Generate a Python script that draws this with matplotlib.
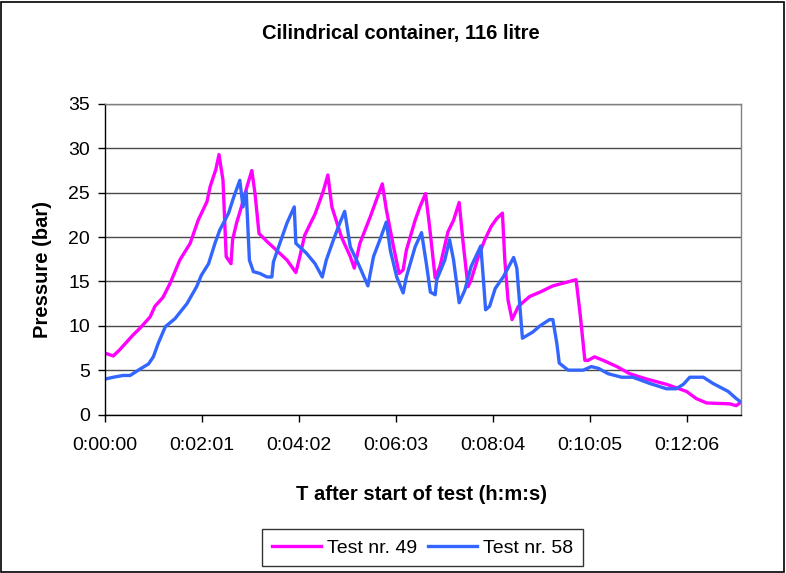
import matplotlib
matplotlib.use('Agg')
import matplotlib.pyplot as plt
from matplotlib.patches import Rectangle

# ---- data (time in seconds after start of test, pressure in bar) ----
t49 = [0, 10, 18, 25, 35, 43, 56, 62, 72, 81,
       93, 106, 116, 127, 131, 138, 142, 147, 151, 157,
       159, 164, 170, 177, 183, 187, 192, 202, 214, 227,
       238, 243, 249, 262, 272, 278, 283, 289, 295, 306,
       311, 318, 331, 337, 346, 351, 360, 367, 372, 376,
       387, 393, 400, 405, 412, 418, 428, 435, 442, 447,
       453, 457, 466, 474, 482, 489, 496, 499, 503, 508,
       516, 530, 543, 559, 576, 588, 593, 599, 603, 611,
       622, 639, 655, 676, 701, 726, 738, 751, 780, 788,
       794]
p49 = [6.9, 6.6, 7.3, 8.0, 9.0, 9.7, 11.0, 12.2, 13.2, 14.8,
       17.4, 19.3, 21.9, 24.0, 25.7, 27.6, 29.3, 26.4, 17.8, 17.0,
       19.7, 21.6, 23.4, 25.7, 27.5, 24.9, 20.4, 19.5, 18.5, 17.4,
       16.0, 17.8, 20.2, 22.6, 25.1, 27.0, 23.4, 21.7, 20.0, 17.8,
       16.5, 19.3, 22.3, 23.8, 26.0, 23.1, 18.9, 15.9, 16.3, 18.5,
       21.9, 23.4, 24.9, 21.2, 15.4, 16.7, 20.6, 21.9, 23.9, 19.3,
       14.4, 15.2, 17.8, 19.7, 21.2, 22.1, 22.7, 17.4, 12.9, 10.7,
       12.2, 13.3, 13.8, 14.5, 14.9, 15.2, 11.4, 6.1, 6.1, 6.5,
       6.1, 5.4, 4.6, 4.0, 3.4, 2.6, 1.8, 1.3, 1.2, 1.0,
       1.4]

t58 = [0, 10, 22, 31, 43, 54, 60, 66, 75, 87,
       102, 114, 120, 129, 137, 143, 154, 160, 168, 172,
       176, 180, 185, 193, 202, 208, 210, 218, 227, 236,
       238, 251, 262, 271, 276, 285, 293, 299, 306, 316,
       328, 335, 343, 351, 356, 364, 372, 376, 387, 395,
       401, 406, 412, 414, 424, 430, 435, 442, 449, 457,
       469, 472, 475, 480, 487, 497, 510, 514, 521, 534,
       543, 555, 559, 564, 567, 578, 597, 607, 616, 628,
       645, 659, 680, 701, 713, 722, 730, 747, 759, 778,
       788, 794]
p58 = [4.0, 4.2, 4.4, 4.4, 5.1, 5.7, 6.5, 8.0, 9.9, 10.8,
       12.5, 14.4, 15.7, 17.0, 19.3, 20.8, 22.7, 24.4, 26.4, 23.4,
       25.1, 17.4, 16.1, 15.9, 15.5, 15.5, 17.2, 19.3, 21.6, 23.4,
       19.3, 18.2, 17.0, 15.5, 17.4, 19.7, 21.6, 22.9, 18.9, 17.0,
       14.5, 17.8, 19.7, 21.7, 18.5, 15.5, 13.7, 15.5, 18.9, 20.5,
       17.0, 13.8, 13.5, 15.2, 17.4, 19.7, 17.4, 12.6, 14.0, 16.7,
       19.0, 15.5, 11.8, 12.2, 14.2, 15.5, 17.7, 16.5, 8.6, 9.3,
       10.0, 10.7, 10.7, 8.0, 5.8, 5.0, 5.0, 5.4, 5.2, 4.6,
       4.2, 4.2, 3.5, 2.9, 2.9, 3.4, 4.2, 4.2, 3.5, 2.6,
       1.8, 1.4]

x_tick_pos = [0, 121, 242, 363, 484, 605, 726]
x_tick_labels = ["0:00:00", "0:02:01", "0:04:02", "0:06:03", "0:08:04", "0:10:05", "0:12:06"]
y_ticks = [0, 5, 10, 15, 20, 25, 30, 35]
series_labels = ["Test nr. 49", "Test nr. 58"]

plt.rcParams['font.family'] = ['Liberation Sans', 'DejaVu Sans']

W, H = 786, 573
fig = plt.figure(figsize=(W / 100, H / 100), dpi=100)
fig.patch.set_facecolor('white')

left, right, top, bottom = 105.3, 741, 104, 414.5
ax = fig.add_axes([left / W, 1 - bottom / H, (right - left) / W, (bottom - top) / H])

ax.plot(t49, p49, color='#FF00FF', lw=2.4, label=series_labels[0], solid_joinstyle='round')
ax.plot(t58, p58, color='#3366FF', lw=2.4, label=series_labels[1], solid_joinstyle='round')

ax.set_xlim(0, 794)
ax.set_ylim(0, 35)
ax.set_yticks(y_ticks)
ax.set_xticks(x_tick_pos)
ax.set_xticklabels(x_tick_labels)
ax.grid(axis='y', color='#4a4a4a', lw=1)
ax.set_axisbelow(True)

for s in ['top', 'right']:
    ax.spines[s].set_color('#808080')
    ax.spines[s].set_linewidth(1)
for s in ['left', 'bottom']:
    ax.spines[s].set_color('black')
    ax.spines[s].set_linewidth(1)

ax.tick_params(axis='both', direction='out', length=5, width=1, labelsize=14, color='black')
ax.tick_params(axis='y', pad=6)
ax.tick_params(axis='x', pad=11)

fig.text(401 / W, 1 - 33 / H, "Cilindrical container, 116 litre", ha='center', va='center',
         fontsize=14.5, fontweight='bold')
fig.text(422 / W, 1 - 494 / H, "T after start of test (h:m:s)", ha='center', va='center',
         fontsize=14.5, fontweight='bold')
fig.text(43 / W, 1 - 269 / H, "Pressure (bar)", ha='center', va='center', rotation=90,
         fontsize=14.5, fontweight='bold')

leg = fig.legend(loc='center', bbox_to_anchor=(422.5 / W, 1 - 547.8 / H), ncol=2,
                 fontsize=14, frameon=True, fancybox=False, edgecolor='black',
                 handlelength=2.5, handletextpad=0.3, columnspacing=0.6,
                 borderpad=0.5, borderaxespad=0)
leg.get_frame().set_linewidth(1)

fig.add_artist(Rectangle((1 / W, 1 / H), (W - 3) / W, (H - 3) / H, transform=fig.transFigure,
                         fill=False, edgecolor='black', lw=1.2))

fig.savefig('out.png', dpi=100)
